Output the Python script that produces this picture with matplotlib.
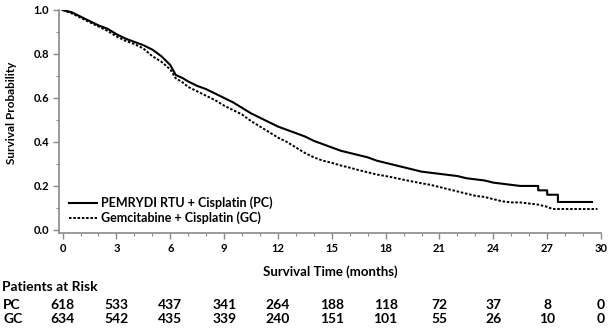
import matplotlib
matplotlib.use("Agg")
import matplotlib.pyplot as plt
from matplotlib.ticker import MultipleLocator

# Kaplan-Meier curves (months, survival probability)
pc_time = [0, 0.5, 1, 1.5, 2, 2.5, 3, 3.5, 4, 4.5, 5, 5.5, 6, 6.3, 6.7, 7, 7.5,
           8, 8.5, 9, 9.5, 10, 10.5, 11, 11.5, 12, 12.5, 13, 13.5, 14, 14.5,
           15, 15.5, 16, 16.5, 17, 17.5, 18, 18.5, 19, 19.5, 20, 20.5, 21,
           21.5, 22, 22.5, 23, 23.5, 24, 24.5, 25, 25.5, 26, 26.5, 26.5, 27,
           27, 27.6, 27.6, 29.5]
pc_surv = [1.0, 0.99, 0.97, 0.95, 0.93, 0.915, 0.89, 0.87, 0.855, 0.84, 0.82,
           0.79, 0.75, 0.705, 0.69, 0.675, 0.655, 0.64, 0.62, 0.60, 0.58,
           0.555, 0.53, 0.51, 0.49, 0.47, 0.455, 0.44, 0.425, 0.405, 0.39,
           0.375, 0.36, 0.35, 0.34, 0.33, 0.315, 0.305, 0.295, 0.285, 0.275,
           0.265, 0.26, 0.255, 0.25, 0.245, 0.235, 0.23, 0.225, 0.215, 0.21,
           0.205, 0.20, 0.20, 0.20, 0.18, 0.18, 0.16, 0.16, 0.127, 0.127]

gc_time = [0, 0.5, 1, 1.5, 2, 2.5, 3, 3.5, 4, 4.5, 5, 5.5, 6, 6.3, 6.7, 7, 7.5,
           8, 8.5, 9, 9.5, 10, 10.5, 11, 11.5, 12, 12.5, 13, 13.5, 14, 14.5,
           15, 15.5, 16, 16.5, 17, 17.5, 18, 18.5, 19, 19.5, 20, 20.5, 21,
           21.5, 22, 22.5, 23, 23.5, 24, 24.5, 25, 25.5, 26, 26.5, 27, 27.3,
           29.8]
gc_surv = [1.0, 0.985, 0.965, 0.945, 0.925, 0.905, 0.88, 0.86, 0.845, 0.825,
           0.79, 0.765, 0.73, 0.69, 0.67, 0.65, 0.63, 0.61, 0.59, 0.565,
           0.545, 0.525, 0.495, 0.47, 0.445, 0.42, 0.40, 0.375, 0.35, 0.33,
           0.315, 0.305, 0.293, 0.283, 0.272, 0.262, 0.252, 0.245, 0.237,
           0.228, 0.22, 0.212, 0.205, 0.195, 0.185, 0.175, 0.165, 0.155, 0.15,
           0.14, 0.13, 0.125, 0.125, 0.12, 0.115, 0.105, 0.095, 0.095]

risk_times = [0, 3, 6, 9, 12, 15, 18, 21, 24, 27, 30]
pc_risk = [618, 533, 437, 341, 264, 188, 118, 72, 37, 8, 0]
gc_risk = [634, 542, 435, 339, 240, 151, 101, 55, 26, 10, 0]

pc_label = "PEMRYDI RTU + Cisplatin (PC)"
gc_label = "Gemcitabine + Cisplatin (GC)"

plt.rcParams["font.family"] = ["Lato", "DejaVu Sans"]
plt.rcParams["font.weight"] = "bold"

W, H = 611, 330
fig = plt.figure(figsize=(W / 100, H / 100), dpi=100)
ax = fig.add_axes([59 / W, 1 - 233 / H, (601 - 59) / W, (233 - 10) / H])

ax.plot(pc_time, pc_surv, color="black", lw=1.5, label=pc_label)
ax.plot(gc_time, gc_surv, color="black", lw=1.4, linestyle=(0, (1.3, 0.9)),
        label=gc_label)

ax.set_xlim(-0.2, 30)
ax.set_ylim(-0.014, 1.0)
ax.xaxis.set_major_locator(MultipleLocator(3))
ax.xaxis.set_minor_locator(MultipleLocator(1))
ax.yaxis.set_minor_locator(MultipleLocator(0.1))
ax.set_yticks([0, 0.2, 0.4, 0.6, 0.8, 1.0])
ax.set_yticklabels(["0.0", "0.2", "0.4", "0.6", "0.8", "1.0"])

gray = "#8a8a8a"
for side in ["top", "right"]:
    ax.spines[side].set_visible(False)
for side in ["left", "bottom"]:
    ax.spines[side].set_color(gray)
    ax.spines[side].set_linewidth(1.2)
ax.tick_params(which="major", length=4, width=1, color=gray, labelsize=8,
               pad=3)
ax.tick_params(which="minor", length=2.5, width=0.8, color=gray)
for lab in ax.get_xticklabels() + ax.get_yticklabels():
    lab.set_fontweight("bold")

fig.text(12 / W, 1 - 113 / H, "Survival Probability", rotation=90,
         ha="center", va="center", fontsize=8.5, fontweight="bold")
fig.text(330 / W, 1 - 272 / H, "Survival Time (months)", ha="center",
         va="center", fontsize=9.5, fontweight="bold")

leg = ax.legend(loc="lower left", bbox_to_anchor=(0.005, 0.005), frameon=False,
                fontsize=9, handlelength=2.2, handletextpad=0.35,
                labelspacing=0.2, borderaxespad=0.2)
for t in leg.get_texts():
    t.set_fontweight("bold")

# number at risk table
fig.text(2 / W, 1 - 287 / H, "Patients at Risk", ha="left", va="center",
         fontsize=10, fontweight="bold")
for row_y, name, counts in [(305, "PC", pc_risk), (319, "GC", gc_risk)]:
    fig.text(3 / W, 1 - row_y / H, name, ha="left", va="center",
             fontsize=10, fontweight="bold")
    for t, n in zip(risk_times, counts):
        x_disp = ax.transData.transform((t, 0))[0]
        fig.text(x_disp / W, 1 - row_y / H, str(n), ha="center", va="center",
                 fontsize=10, fontweight="bold")

fig.savefig("out.png", dpi=100)
